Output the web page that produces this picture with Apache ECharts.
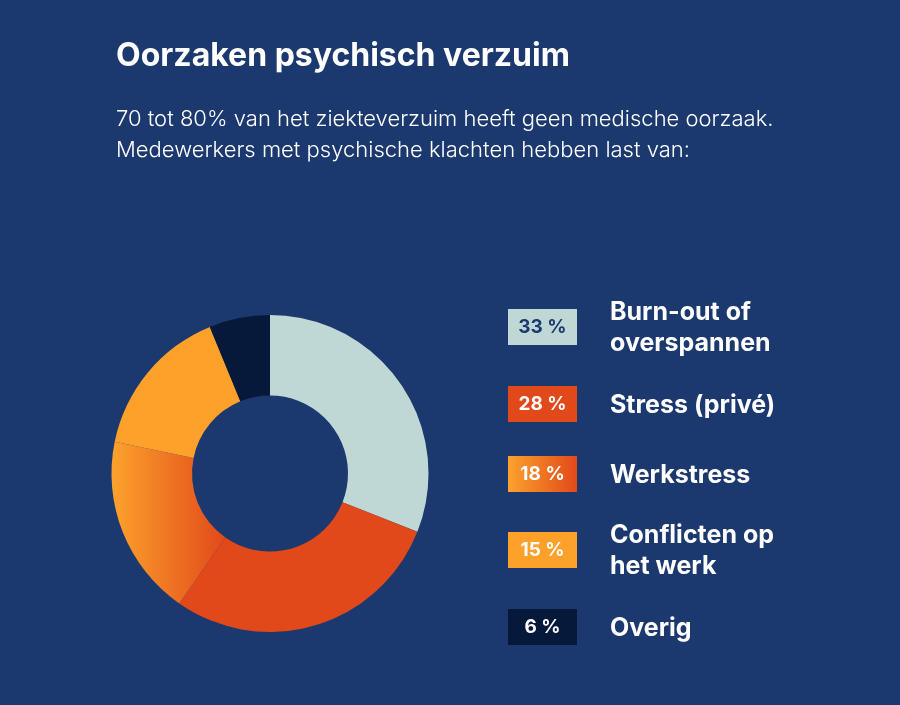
<!DOCTYPE html>
<html>
<head>
<meta charset="utf-8">
<script src="https://cdn.jsdelivr.net/npm/echarts@6/dist/echarts.min.js"></script>
<style>
  html, body { margin: 0; padding: 0; background: #1b396e; }
  #chart { width: 900px; height: 705px; }
</style>
</head>
<body>
<div id="chart"></div>
<script>
// categories + values
const categories = ['Burn-out of\noverspannen', 'Stress (privé)', 'Werkstress', 'Conflicten op\nhet werk', 'Overig'];
const pctLabels = ['33 %', '28 %', '18 %', '15 %', '6 %'];
// slice shares as measured from the donut angles
const sliceValues = [31.0, 28.7, 18.5, 15.6, 6.2];

const BG = '#1b396e'
const FONT = 'Inter, "Noto Sans", sans-serif'

const werkGradient = (x2) => new echarts.graphic.LinearGradient(0, 0, x2, 0, [
    { offset: 0, color: '#fca22c' },
    { offset: 1, color: '#e2491a' }
])

const colors = ['#bfd8d5', '#e1481a', werkGradient(1), '#fda12b', '#07193a']
const boxText = ['#1b396e', '#fff', '#fff', '#fff', '#fff']

const chart = echarts.init(document.getElementById('chart'), null, { renderer: 'canvas' });

// legend boxes + labels on the right
const boxY = [309, 386, 456, 532, 609]
const graphics = []
categories.forEach((name, i) => {
    graphics.push({
        type: 'rect',
        left: 508, top: boxY[i],
        shape: { width: 69, height: 36 },
        style: { fill: colors[i] }
    })
    graphics.push({
        type: 'text',
        x: 542.5, y: boxY[i] + 18,
        style: {
            text: pctLabels[i],
            fill: boxText[i],
            font: '700 19px ' + FONT,
            align: 'center',
            verticalAlign: 'middle'
        }
    })
    graphics.push({
        type: 'text',
        x: 610, y: boxY[i] + 19,
        style: {
            text: name,
            fill: '#fff',
            font: '700 25px ' + FONT,
            lineHeight: 31,
            align: 'left',
            verticalAlign: 'middle'
        }
    })
})

chart.setOption({
    backgroundColor: BG,
    animation: false,
    title: [{
        text: 'Oorzaken psychisch verzuim',
        left: 111, top: 35,
        textStyle: { color: '#fff', fontFamily: FONT, fontWeight: 700, fontSize: 32 }
    }, {
        text: '70 tot 80% van het ziekteverzuim heeft geen medische oorzaak.\nMedewerkers met psychische klachten hebben last van:',
        left: 111, top: 99,
        textStyle: { color: '#fff', fontFamily: FONT, fontWeight: 300, fontSize: 22, lineHeight: 31 }
    }],
    series: [{
        type: 'pie',
        center: [270, 473.5],
        radius: [78, 158.5],
        startAngle: 90,
        clockwise: true,
        silent: true,
        label: { show: false },
        labelLine: { show: false },
        itemStyle: { borderWidth: 0 },
        data: categories.map((c, i) => ({
            name: c,
            value: sliceValues[i],
            itemStyle: { color: colors[i] }
        }))
    }],
    graphic: graphics
})
</script>
</body>
</html>
